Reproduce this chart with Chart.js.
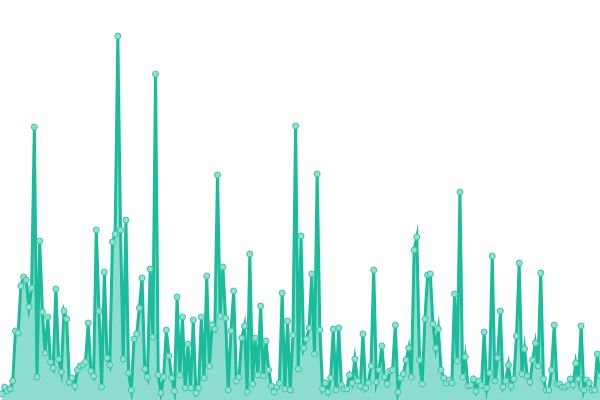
<!DOCTYPE html>
<html>
<head>
<meta charset="utf-8">
<script src="https://cdn.jsdelivr.net/npm/chart.js@4/dist/chart.umd.min.js"></script>
<style>
  body { margin: 0; background: #fff; }
  #wrap { width: 600px; height: 400px; }
</style>
</head>
<body>
<div id="wrap"><canvas id="chart" width="600" height="400"></canvas></div>
<script>
// values, left to right
const values = [
  6, 13, 9, 11, 19, 69, 67, 114, 123, 120, 93, 112, 273, 23, 159, 88, 47, 83,
  38, 32, 111, 41, 28, 89, 81, 18, 22, 14, 30, 34, 35, 38, 77, 29, 24, 170, 89,
  13, 128, 42, 35, 158, 166, 364, 170, 41, 180, 27, 10, 61, 66, 92, 122, 31, 23, 131,
  63, 326, 25, 7, 23, 70, 44, 22, 9, 103, 25, 83, 12, 56, 12, 80, 7, 12,
  83, 22, 124, 34, 75, 71, 225, 84, 133, 82, 10, 69, 109, 19, 23, 62, 74, 8, 146,
  16, 62, 25, 94, 24, 59, 30, 14, 8, 13, 17, 107, 11, 79, 10, 65, 274, 31,
  164, 52, 61, 72, 126, 46, 226, 70, 11, 17, 8, 22, 71, 10, 72, 15, 11, 11, 25,
  17, 41, 19, 14, 66, 12, 17, 34, 130, 18, 30, 54, 23, 16, 29, 30, 75, 8,
  22, 26, 40, 52, 23, 150, 163, 40, 16, 81, 125, 126, 76, 52, 71, 30, 22, 17, 20,
  17, 106, 39, 208, 23, 43, 14, 15, 21, 9, 19, 15, 68, 12, 27, 144, 19, 42,
  89, 13, 19, 35, 14, 21, 64, 137, 26, 51, 24, 18, 40, 57, 34, 127, 21, 10, 10,
  30, 75, 16, 16, 13, 13, 15, 21, 15, 37, 21, 74, 10, 20, 17, 10, 10, 46, 24
];
const labels = values.map((v, i) => i);

const lineColor = "#1abc9c";

new Chart(document.getElementById("chart"), {
  type: "line",
  data: {
    labels,
    datasets: [
      {
        data: values,
        borderColor: lineColor,
        borderWidth: 3,
        backgroundColor: "rgba(26, 188, 156, 0.5)",
        fill: "origin",
        tension: 0,
        pointRadius: 3,
        pointBorderWidth: 1,
        pointBackgroundColor: "#8ee0cf",
        pointBorderColor: "#3cc5a6",
        clip: false,
      },
    ],
  },
  options: {
    responsive: false,
    animation: false,
    layout: { autoPadding: false, padding: { left: 2, right: 0, top: 0, bottom: 0 } },
    scales: {
      x: { display: false, offset: false },
      y: { display: false, min: 0, max: 400 },
    },
    plugins: {
      legend: { display: false },
      tooltip: { enabled: false },
    },
  },
});
</script>
</body>
</html>
